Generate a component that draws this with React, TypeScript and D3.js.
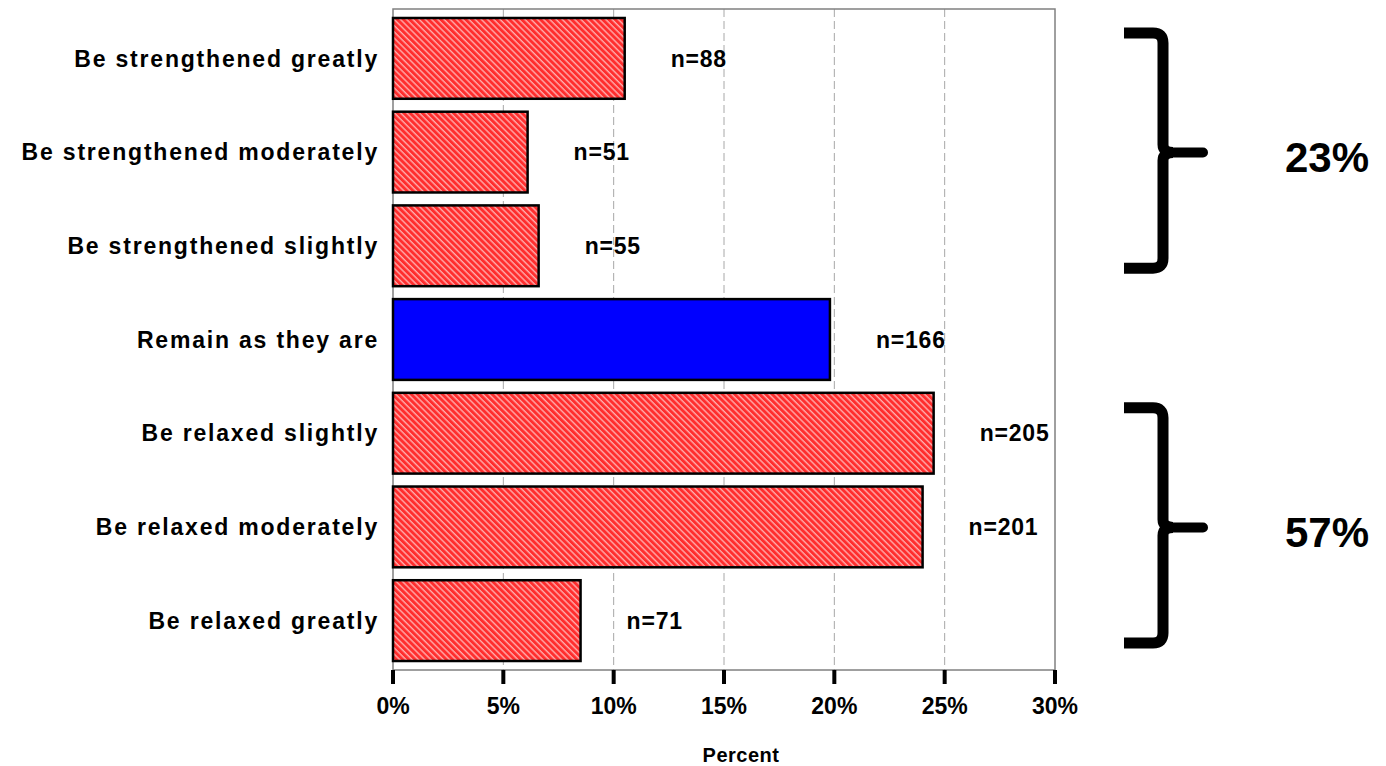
import * as React from "react";
import * as d3 from "d3";

const CATEGORIES = [
  "Be strengthened greatly",
  "Be strengthened moderately",
  "Be strengthened slightly",
  "Remain as they are",
  "Be relaxed slightly",
  "Be relaxed moderately",
  "Be relaxed greatly",
];
const PERCENTS = [10.5, 6.1, 6.6, 19.8, 24.5, 24.0, 8.5];
const COUNTS = [88, 51, 55, 166, 205, 201, 71];
const HIGHLIGHT = "Remain as they are";
const TICKS = [0, 5, 10, 15, 20, 25, 30];
const GROUPS = [
  { from: 0, to: 2, label: "23%" },
  { from: 4, to: 6, label: "57%" },
];

const W = 1386;
const H = 766;
const FONT = "'Liberation Sans', Arial, sans-serif";

export default function App() {
  const ref = React.useRef<SVGSVGElement | null>(null);

  React.useEffect(() => {
    if (!ref.current) return;
    const svg = d3.select(ref.current);
    svg.selectAll("*").remove();

    const left = 393;
    const right = 1055;
    const top = 9;
    const bottom = 670;

    const x = d3.scaleLinear().domain([0, 30]).range([left, right]);
    const y = d3
      .scaleBand<string>()
      .domain(CATEGORIES)
      .range([top, bottom])
      .paddingInner(0.138)
      .paddingOuter(0.096);

    // hatch pattern
    const defs = svg.append("defs");
    const pat = defs
      .append("pattern")
      .attr("id", "hatch")
      .attr("patternUnits", "userSpaceOnUse")
      .attr("width", 4.4)
      .attr("height", 4.4)
      .attr("patternTransform", "rotate(-45)");
    pat.append("rect").attr("width", 4.4).attr("height", 4.4).attr("fill", "#ff2e2e");
    pat
      .append("line")
      .attr("x1", 1)
      .attr("y1", 0)
      .attr("x2", 1)
      .attr("y2", 4.4)
      .attr("stroke", "#ffe0e0")
      .attr("stroke-width", 1);

    // grid
    TICKS.filter((t) => t > 0 && t < 30).forEach((t) => {
      svg
        .append("line")
        .attr("x1", x(t))
        .attr("x2", x(t))
        .attr("y1", top)
        .attr("y2", bottom)
        .attr("stroke", "#a8a8a8")
        .attr("stroke-width", 1)
        .attr("stroke-dasharray", "8,4");
    });

    // frame
    svg
      .append("rect")
      .attr("x", left)
      .attr("y", top)
      .attr("width", right - left)
      .attr("height", bottom - top)
      .attr("fill", "none")
      .attr("stroke", "#808080")
      .attr("stroke-width", 1.5);

    // bars
    CATEGORIES.forEach((c, i) => {
      svg
        .append("rect")
        .attr("x", x(0))
        .attr("y", y(c)!)
        .attr("width", x(PERCENTS[i]) - x(0))
        .attr("height", y.bandwidth())
        .attr("fill", c === HIGHLIGHT ? "#0000ff" : "url(#hatch)")
        .attr("stroke", "#000")
        .attr("stroke-width", 2.5);

      svg
        .append("text")
        .text(`n=${COUNTS[i]}`)
        .attr("x", x(PERCENTS[i]) + 46)
        .attr("y", y(c)! + y.bandwidth() / 2)
        .attr("dy", "0.36em")
        .attr("font-family", FONT)
        .attr("font-weight", "bold")
        .attr("font-size", 23)
        .attr("letter-spacing", 0.8)
        .attr("fill", "#000");

      svg
        .append("text")
        .text(c)
        .attr("x", 379)
        .attr("y", y(c)! + y.bandwidth() / 2)
        .attr("dy", "0.36em")
        .attr("text-anchor", "end")
        .attr("font-family", FONT)
        .attr("font-weight", "bold")
        .attr("font-size", 23)
        .attr("letter-spacing", 1.8)
        .attr("fill", "#000");
    });

    // x axis ticks
    TICKS.forEach((t) => {
      svg
        .append("line")
        .attr("x1", x(t))
        .attr("x2", x(t))
        .attr("y1", bottom)
        .attr("y2", bottom + 14)
        .attr("stroke", "#000")
        .attr("stroke-width", 4);
      svg
        .append("text")
        .text(`${t}%`)
        .attr("x", x(t))
        .attr("y", 714)
        .attr("text-anchor", "middle")
        .attr("font-family", FONT)
        .attr("font-weight", "bold")
        .attr("font-size", 23)
        .attr("fill", "#000");
    });

    svg
      .append("text")
      .text("Percent")
      .attr("x", 741)
      .attr("y", 762)
      .attr("text-anchor", "middle")
      .attr("font-family", FONT)
      .attr("font-weight", "bold")
      .attr("font-size", 20)
      .attr("letter-spacing", 0.5)
      .attr("fill", "#000");

    // braces
    GROUPS.forEach((g) => {
      const y0 = y(CATEGORIES[g.from])! + 15;
      const y1 = y(CATEGORIES[g.to])! + y.bandwidth() - 18;
      const mid = (y0 + y1) / 2 + 2;
      const bx = 1163;
      const lx = 1124;
      const r = 10;
      const path = [
        `M${lx},${y0}`,
        `L${bx - r},${y0}`,
        `Q${bx},${y0} ${bx},${y0 + r}`,
        `L${bx},${mid - 8}`,
        `Q${bx},${mid} ${bx + 10},${mid}`,
        `M${bx},${y1 - r}`,
        `L${bx},${mid + 8}`,
        `Q${bx},${mid} ${bx + 10},${mid}`,
        `M${bx},${y1 - r}`,
        `Q${bx},${y1} ${bx - r},${y1}`,
        `L${lx},${y1}`,
      ].join(" ");
      svg
        .append("path")
        .attr("d", path)
        .attr("fill", "none")
        .attr("stroke", "#000")
        .attr("stroke-width", 11);
      svg
        .append("line")
        .attr("x1", bx + 4)
        .attr("x2", 1203)
        .attr("y1", mid)
        .attr("y2", mid)
        .attr("stroke", "#000")
        .attr("stroke-width", 10)
        .attr("stroke-linecap", "round");

      svg
        .append("text")
        .text(g.label)
        .attr("x", 1285)
        .attr("y", mid + 4)
        .attr("dy", "0.36em")
        .attr("font-family", FONT)
        .attr("font-weight", "bold")
        .attr("font-size", 42)
        .attr("fill", "#000");
    });
  }, []);

  return (
    <svg
      ref={ref}
      width={W}
      height={H}
      style={{ position: "absolute", left: 0, top: 0, background: "#fff" }}
    />
  );
}
